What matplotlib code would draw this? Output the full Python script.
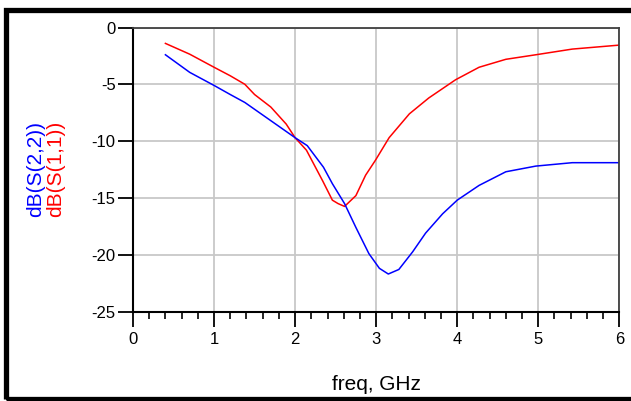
import matplotlib
matplotlib.use('Agg')
import matplotlib.pyplot as plt
from matplotlib.patches import Rectangle
from matplotlib.ticker import MultipleLocator

plt.rcParams['font.family'] = ['Liberation Sans', 'DejaVu Sans']
plt.rcParams['axes.unicode_minus'] = False  # plain hyphen, like the original

# S(2,2) - blue
freq_s22 = [0.4, 0.7, 1.0, 1.2, 1.38, 1.7, 2.0, 2.15, 2.35, 2.46, 2.61, 2.75,
            2.91, 3.04, 3.15, 3.28, 3.45, 3.61, 3.82, 4.0, 4.27, 4.6, 4.97,
            5.42, 6.0]
db_s22 = [-2.4, -3.95, -5.1, -5.9, -6.6, -8.2, -9.7, -10.4, -12.3, -13.75,
          -15.5, -17.6, -19.9, -21.2, -21.7, -21.3, -19.75, -18.1, -16.4,
          -15.2, -13.9, -12.7, -12.2, -11.9, -11.9]

# S(1,1) - red
freq_s11 = [0.4, 0.7, 1.0, 1.2, 1.38, 1.5, 1.7, 1.89, 2.0, 2.14, 2.34, 2.46,
            2.53, 2.61, 2.75, 2.87, 2.99, 3.16, 3.41, 3.65, 3.98, 4.27, 4.6,
            4.97, 5.42, 6.0]
db_s11 = [-1.4, -2.35, -3.5, -4.25, -5.0, -5.9, -7.0, -8.5, -9.7, -10.8,
          -13.5, -15.2, -15.5, -15.75, -14.8, -13.0, -11.7, -9.7, -7.6, -6.2,
          -4.6, -3.5, -2.8, -2.4, -1.9, -1.55]

fig = plt.figure(figsize=(6.31, 4.01), dpi=100)
ax = fig.add_axes([133/631, 1-311.5/401, (619.3-133)/631, (311.5-27.5)/401])

ax.plot(freq_s11, db_s11, color='#ff0000', lw=1.1)
ax.plot(freq_s22, db_s22, color='#0000ff', lw=1.1)

ax.set_xlim(0, 6)
ax.set_ylim(-25, 0)
ax.xaxis.set_major_locator(MultipleLocator(1))
ax.xaxis.set_minor_locator(MultipleLocator(0.2))
ax.yaxis.set_major_locator(MultipleLocator(5))
ax.grid(True, which='major', color='#c8c8c8', lw=1.3)
ax.set_axisbelow(True)

ax.tick_params(axis='both', which='major', direction='out', length=10.5,
               width=1.3, labelsize=12, colors='black')
ax.tick_params(axis='x', which='major', pad=4)
ax.tick_params(axis='y', which='major', pad=2)
ax.tick_params(axis='x', which='minor', direction='out', length=5, width=1.2)

for s in ['left', 'bottom']:
    ax.spines[s].set_color('black')
    ax.spines[s].set_linewidth(1.5)
for s in ['top', 'right']:
    ax.spines[s].set_color('#404040')
    ax.spines[s].set_linewidth(1.3)

# axis labels
fig.text(376/631, 1-390/401, 'freq, GHz', fontsize=15, ha='center',
         va='baseline')
fig.text(36/631, 1-169/401, 'dB(S(2,2))', fontsize=15, color='#0000ff',
         rotation=90, ha='center', va='center')
fig.text(56/631, 1-169/401, 'dB(S(1,1))', fontsize=15, color='#ff0000',
         rotation=90, ha='center', va='center')

# thick black frame round the figure
fig.patches.append(Rectangle((5.5/631, 1-398.5/401), 1.0, (398.5-9.5)/401,
                             transform=fig.transFigure, fill=False,
                             edgecolor='black', lw=3.8, clip_on=False))

fig.savefig('out.png', dpi=100)
